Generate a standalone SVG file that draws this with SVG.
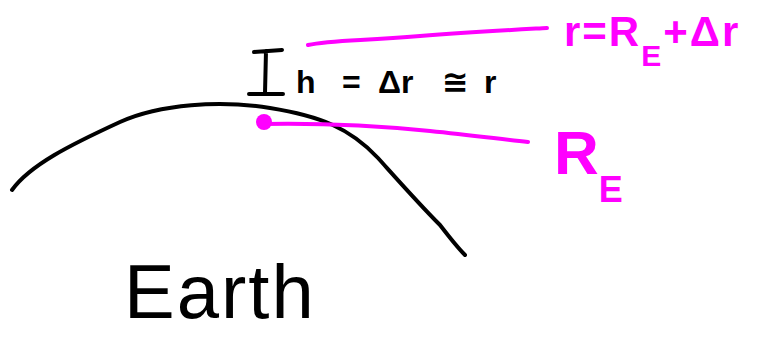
<svg xmlns="http://www.w3.org/2000/svg" width="759" height="337" viewBox="0 0 759 337">
<style>
.ink{fill:none;stroke-linecap:round;stroke-linejoin:round}
.blk{stroke:#000;stroke-width:4}
.mag{stroke:#ff00ff;stroke-width:4}
.tb{font-family:"Liberation Sans","DejaVu Sans",sans-serif;fill:#000}
.tm{font-family:"Liberation Sans","DejaVu Sans",sans-serif;fill:#ff00ff;font-weight:bold}
</style>
<rect width="759" height="337" fill="#fff"/>
<g id="earth-surface">
<path class="ink blk" d="M12,190 C30,165 70,145 120,122 C160,104 220,100 270,108 C320,116 350,128 378,158 C405,188 420,205 440,225 C450,238 458,248 465,255"/>
</g>
<g id="height-marker">
<path class="ink blk" stroke-width="6" d="M254,52 L282,50 M266,51 L265,93 M249,94 L283,94"/>
<text class="tb" y="93" font-size="32" font-weight="bold"><tspan x="296">h</tspan><tspan x="342">=</tspan><tspan x="378">Δr</tspan><tspan x="442">≅</tspan><tspan x="484">r</tspan></text>
</g>
<g id="connectors">
<path class="ink mag" d="M308,45 C330,40 360,41 420,36 C470,32 510,30 547,28"/>
<path class="ink mag" d="M264,124 C320,123 380,126 430,131 C470,135 500,139 528,142"/>
<circle cx="264" cy="122" r="8" fill="#ff00ff"/>
</g>
<g id="label-r">
<text class="tm" x="564" y="46" font-size="42" letter-spacing="2">r=R<tspan font-size="30" dy="20">E</tspan><tspan dy="-20">+Δr</tspan></text>
</g>
<g id="label-RE">
<text class="tm" x="554" y="174" font-size="62">R<tspan font-size="36" dy="28">E</tspan></text>
</g>
<g id="label-earth">
<text class="tb" x="124" y="318" font-size="76" letter-spacing="2">Earth</text>
</g>
</svg>
